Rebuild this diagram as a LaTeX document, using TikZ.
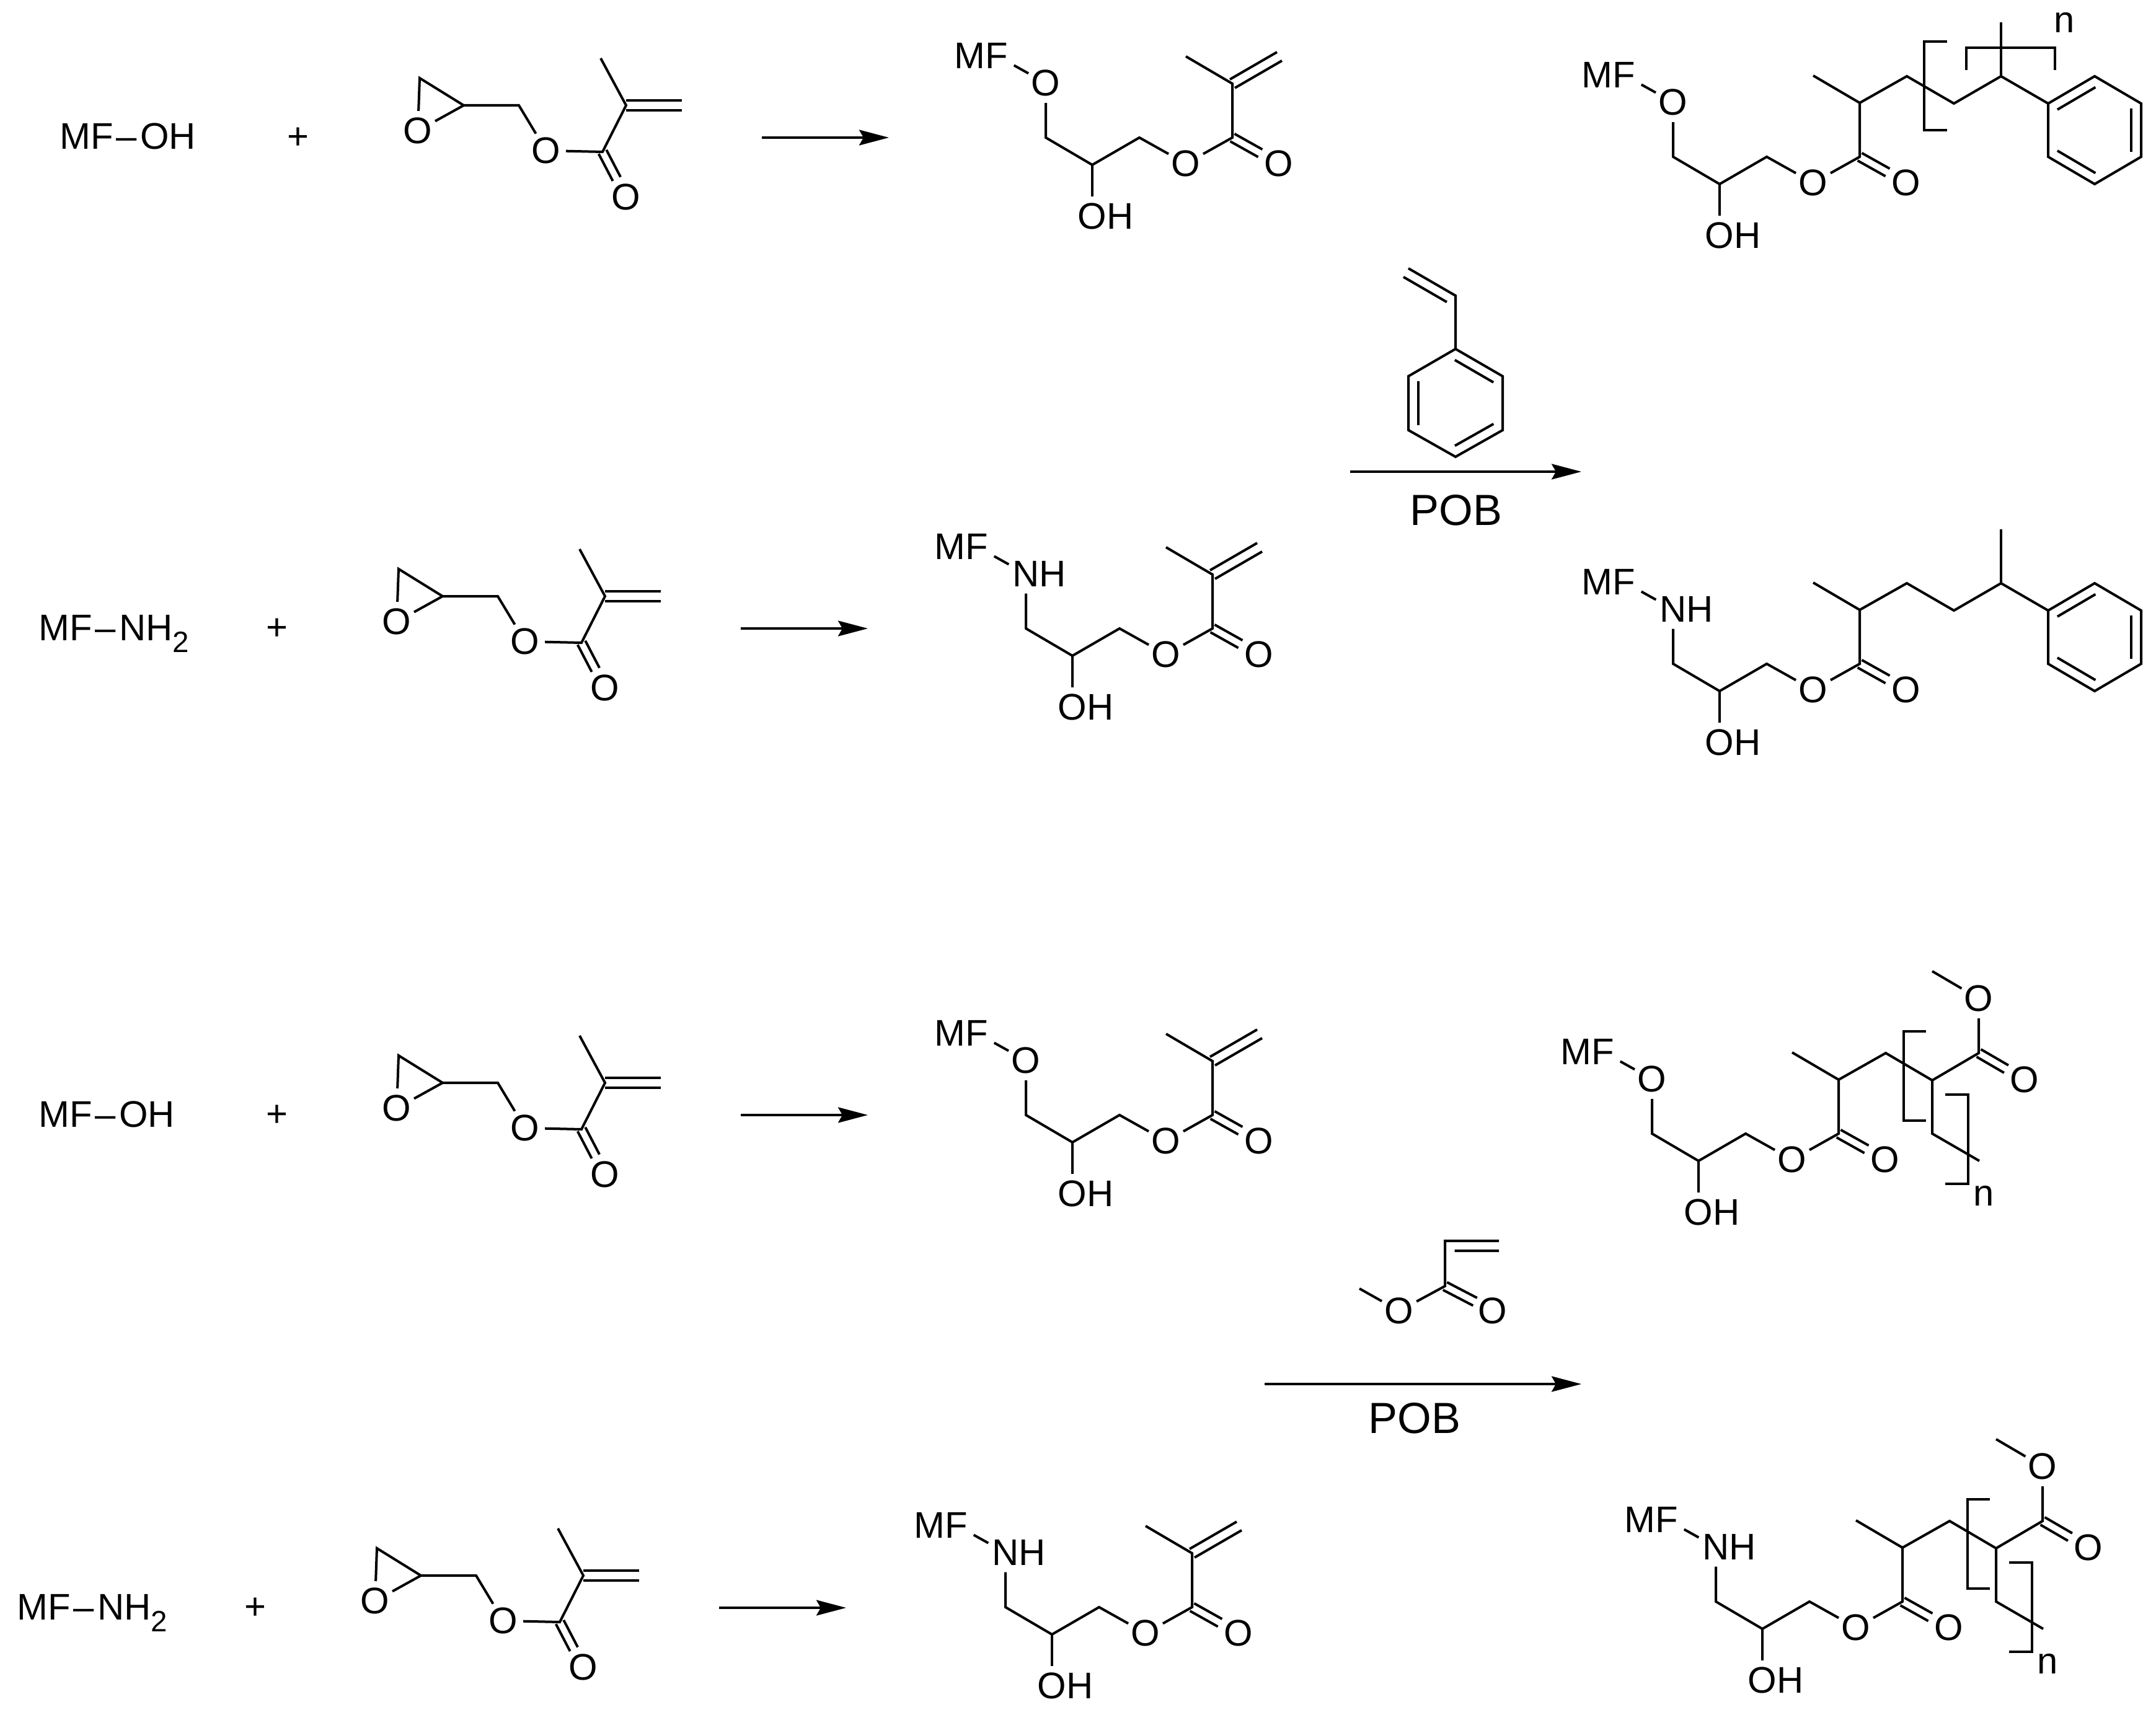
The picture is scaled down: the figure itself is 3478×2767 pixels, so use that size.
\documentclass[tikz,border=0pt]{standalone}
\usepackage{fontspec}
\setmainfont{Liberation Sans}
\usepackage{xcolor}
\usepackage{tikz}
\usetikzlibrary{calc,arrows.meta}
\tikzset{
  bond/.style={draw=black, line width=0.04cm},
  rxn/.style={draw=black, line width=0.035cm, -{Stealth[length=0.48cm,width=0.25cm,inset=0.07cm]}},
  atom/.style={circle, inner sep=0pt, minimum size=0.62cm, font=\fontsize{17}{20}\selectfont},
  lab/.style={inner sep=0pt, font=\fontsize{17}{20}\selectfont},
  cond/.style={inner sep=0pt, font=\fontsize{20}{24}\selectfont}
}
\newcommand{\BondLine}[5]{%
  \draw[bond] ($(#1)!#4!(#2)!#3!-90:(#2)$) -- ($(#2)!#5!(#1)!#3!90:(#1)$);
}
\newcommand{\DblBond}[5]{%
  \BondLine{#1}{#2}{#3}{#4}{#5}
  \BondLine{#1}{#2}{-#3}{#4}{#5}
}
\newcommand{\RingBonds}{%
  \draw[bond] (r1)--(r2)--(r3)--(r4)--(r5)--(r6)--cycle;
  \BondLine{r1}{r2}{0.16cm}{0.09}{0.09}
  \BondLine{r3}{r4}{0.16cm}{0.09}{0.09}
  \BondLine{r5}{r6}{0.16cm}{0.09}{0.09}
}
% one row: reactant, plus, epoxide ester, arrow
\newcommand{\RowAt}[3]{%
  \begin{scope}[shift={(#2)},name prefix=#1-]
    \node[lab,anchor=base west] (reag) at (96,241) {#3};
    \node[lab] (plus) at (481,223) {+};
    \begin{scope}[shift={(1010,170)}]
      \coordinate (cc) at (0,0);
      \coordinate (me) at (-41,-76);
      \coordinate (ce) at (90,0);
      \coordinate (co) at (-38,75);
      \coordinate (ch) at (-173,0);
      \coordinate (ep) at (-262,0);
      \coordinate (et) at (-333,-44);
      \node[atom] (oe) at (-129,73) {O};
      \node[atom] (oc) at (0,148) {O};
      \node[atom] (ox) at (-336,41) {O};
      \draw[bond] (me)--(cc)--(co)--(oe)--(ch)--(ep)--(et)--(ox)--(ep);
      \DblBond{cc}{ce}{0.08cm}{0}{0}
      \DblBond{co}{oc}{0.07cm}{0}{0.4}
    \end{scope}
    \coordinate (ar1) at (1229,222);
    \coordinate (ar2) at (1434,222);
    \draw[rxn] (ar1)--(ar2);
  \end{scope}
}
% MF-X glycerol ester, origin on the ester carbon
\newcommand{\MolAt}[4]{%
  \begin{scope}[shift={(#2)},name prefix=#1-]
    \coordinate (c4) at (0,0);
    \coordinate (c3) at (-150,0);
    \coordinate (c2) at (-226,44);
    \coordinate (c1) at (-301,0);
    \coordinate (c5) at (0,-87);
    \coordinate (me) at (-75,-131);
    \node[atom] (mf) at (-380,-132) {\llap{M}F};
    \node[atom] (x1) at (-301,-88) {#3};
    \node[atom] (oh) at (-226,127) {O\rlap{H}};
    \node[atom] (o2) at (-75,42) {O};
    \node[atom] (o3) at (75,42) {O};
    \draw[bond] (mf)--(x1)--(c1)--(c2)--(c3)--(o2)--(c4)--(c5)--(me);
    \draw[bond] (c2)--(oh);
    \DblBond{c4}{o3}{0.07cm}{0}{0.4}
    #4
  \end{scope}
}
\newcommand{\VinylTail}{%
  \coordinate (ve) at (76,-131);
  \DblBond{c5}{ve}{0.08cm}{0}{0}
}
\newcommand{\StyreneTail}{%
  \coordinate (c6) at (76,-130);
  \coordinate (c7) at (152,-86);
  \coordinate (c8) at (228,-130);
  \coordinate (c9) at (228,-217);
  \coordinate (r1) at (304,-86);
  \coordinate (r2) at (379,-130);
  \coordinate (r3) at (454,-86);
  \coordinate (r4) at (454,0);
  \coordinate (r5) at (379,44);
  \coordinate (r6) at (304,0);
  \draw[bond] (c5)--(c6)--(c7)--(c8)--(r1);
  \draw[bond] (c8)--(c9);
  \RingBonds
}
\newcommand{\StyreneMarks}{%
  \draw[bond] (141,-186)--(104,-186)--(104,-43)--(141,-43);
  \draw[bond] (172,-140)--(172,-176)--(315,-176)--(315,-140);
  \node[lab] (rep) at (330,-217) {n};
}
\newcommand{\AcrylateTail}{%
  \coordinate (c6) at (76,-130);
  \coordinate (c7) at (151,-86);
  \coordinate (c8) at (226,-130);
  \coordinate (c10) at (151,0);
  \coordinate (c11) at (227,44);
  \coordinate (m2) at (151,-262);
  \node[atom] (o4) at (226,-218) {O};
  \node[atom] (o5) at (300,-87) {O};
  \draw[bond] (c5)--(c6)--(c7)--(c8)--(o4)--(m2);
  \draw[bond] (c7)--(c10)--(c11);
  \DblBond{c8}{o5}{0.07cm}{0}{0.4}
  \draw[bond] (141,-165)--(105,-165)--(105,-21)--(141,-21);
  \draw[bond] (172,-63)--(209,-63)--(209,81)--(172,81);
  \node[lab] (rep) at (234,100) {n};
}

\begin{document}
\begin{tikzpicture}[x=0.01cm,y=-0.01cm]
  \useasboundingbox (0,0) rectangle (3478,2767);

  \RowAt{ra}{0,0}{MF\kern0.05cm--\kern0.05cm OH}
  \RowAt{rb}{-34,792}{MF\kern0.05cm--\kern0.05cm NH\raisebox{-0.19cm}{\fontsize{13.5}{14}\selectfont 2}}
  \RowAt{rc}{-34,1577}{MF\kern0.05cm--\kern0.05cm OH}
  \RowAt{rd}{-69,2372}{MF\kern0.05cm--\kern0.05cm NH\raisebox{-0.19cm}{\fontsize{13.5}{14}\selectfont 2}}

  \MolAt{ia}{1988,222}{O}{\VinylTail}
  \MolAt{ib}{1956,1014}{N\rlap{H}}{\VinylTail}
  \MolAt{ic}{1956,1799}{O}{\VinylTail}
  \MolAt{id}{1923,2593}{N\rlap{H}}{\VinylTail}

  \MolAt{pa}{3000,253}{O}{\StyreneTail\StyreneMarks}
  \MolAt{pb}{3000,1071}{N\rlap{H}}{\StyreneTail}
  \MolAt{pc}{2966,1829}{O}{\AcrylateTail}
  \MolAt{pd}{3069,2584}{N\rlap{H}}{\AcrylateTail}

  \begin{scope}[name prefix=sty-]
    \coordinate (ve) at (2272,433);
    \coordinate (vc) at (2348,477);
    \coordinate (r1) at (2348,563);
    \coordinate (r2) at (2424,607);
    \coordinate (r3) at (2424,694);
    \coordinate (r4) at (2348,737);
    \coordinate (r5) at (2272,694);
    \coordinate (r6) at (2272,607);
    \draw[bond] (ve)--(vc)--(r1);
    \BondLine{ve}{vc}{0.16cm}{0}{0.08}
    \RingBonds
    \coordinate (ar1) at (2178,761);
    \coordinate (ar2) at (2551,761);
    \draw[rxn] (ar1)--(ar2);
    \node[cond] (pob) at (2349,823) {POB};
  \end{scope}

  \begin{scope}[name prefix=acr-]
    \coordinate (ve) at (2418,2002);
    \coordinate (vc) at (2331,2002);
    \coordinate (co) at (2331,2075);
    \coordinate (me) at (2193,2079);
    \node[atom] (oe) at (2257,2115) {O};
    \node[atom] (oc) at (2408,2115) {O};
    \draw[bond] (ve)--(vc)--(co)--(oe)--(me);
    \BondLine{vc}{ve}{0.16cm}{0.18}{0}
    \DblBond{co}{oc}{0.07cm}{0}{0.37}
    \coordinate (ar1) at (2040,2233);
    \coordinate (ar2) at (2551,2233);
    \draw[rxn] (ar1)--(ar2);
    \node[cond] (pob) at (2282,2288) {POB};
  \end{scope}
\end{tikzpicture}
\end{document}
